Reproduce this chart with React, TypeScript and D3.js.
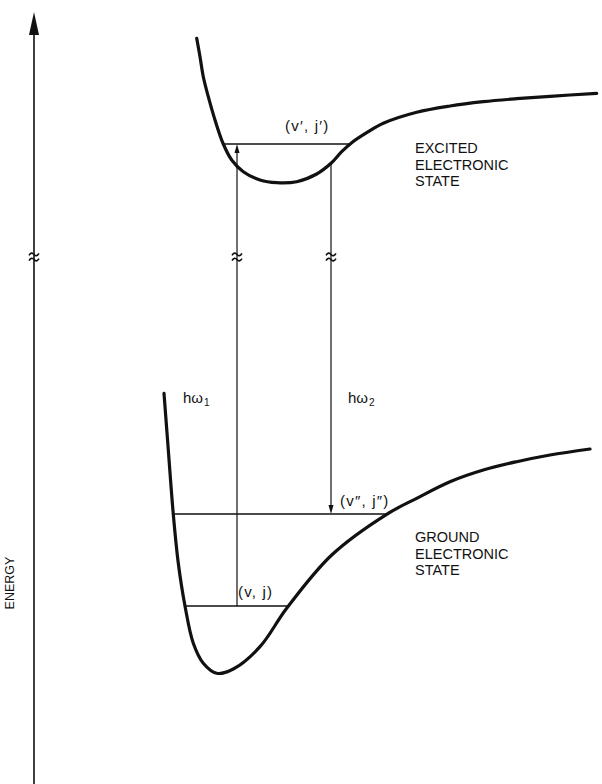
import { useEffect, useRef } from 'react';
import * as d3 from 'd3';

// internuclear distance r (arb. units) vs energy E (arb. units)
const excitedCurve: [number, number][] = [
  [3.67, 74.17], [4.0, 72.33], [4.33, 70.33], [4.83, 68.33], [5.5, 66.0],
  [6.33, 63.6], [7.17, 62.0], [8.33, 60.83], [10.0, 60.0], [11.67, 59.73],
  [13.67, 59.83], [15.67, 60.6], [17.1, 61.67], [18.17, 62.83], [19.17, 63.73],
  [20.67, 64.73], [22.33, 65.67], [25.67, 66.77], [29.0, 67.4], [32.33, 67.83],
  [35.67, 68.13], [39.0, 68.37], [43.67, 68.67],
];

const groundCurve: [number, number][] = [
  [0.4, 38.67], [0.83, 33.0], [1.33, 26.57], [1.83, 21.67], [2.5, 17.4],
  [3.33, 13.67], [4.33, 11.67], [5.67, 10.67], [7.33, 11.1], [10.0, 13.33],
  [12.67, 17.17], [17.17, 22.5], [22.67, 26.57], [25.67, 28.17], [29.0, 29.83],
  [32.33, 31.0], [35.67, 31.83], [39.0, 32.5], [43.0, 33.1],
];

// vibrational-rotational levels
const levels = [
  { name: '(v′, j′)', r0: 6.33, r1: 19.1, e: 63.6, lr: 12.5, le: 64.9 },
  { name: '(v″, j″)', r0: 1.33, r1: 22.7, e: 26.6, lr: 18.0, le: 27.4 },
  { name: '(v, j)', r0: 2.5, r1: 12.7, e: 17.4, lr: 7.8, le: 18.3 },
];

// transitions
const transitions = [
  { name: 'hω', sub: '1', r: 7.7, from: 17.4, to: 63.6, lr: 2.3, le: 37.7 },
  { name: 'hω', sub: '2', r: 17.1, from: 61.7, to: 26.6, lr: 18.8, le: 37.7 },
];

const breakEnergy = 52.3;
const stateLabels = [
  { lines: ['EXCITED', 'ELECTRONIC', 'STATE'], r: 25.5, e: 62.7 },
  { lines: ['GROUND', 'ELECTRONIC', 'STATE'], r: 25.5, e: 23.8 },
];

const App = () => {
  const ref = useRef<SVGSVGElement>(null);

  useEffect(() => {
    const svg = d3.select(ref.current);
    svg.selectAll('*').remove();

    const x = d3.scaleLinear().domain([0, 44]).range([160, 600]);
    const y = d3.scaleLinear().domain([0, 78]).range([780, 0]);
    const font = "'Liberation Sans', Arial, sans-serif";
    const ink = '#111';

    svg.append('rect').attr('width', 602).attr('height', 784).attr('fill', '#fff');

    // energy axis
    const axisX = 34;
    svg.append('line')
      .attr('x1', axisX).attr('x2', axisX)
      .attr('y1', 784).attr('y2', 30)
      .attr('stroke', ink).attr('stroke-width', 1.6);
    svg.append('path')
      .attr('d', `M${axisX},12 L${axisX - 5},35 L${axisX + 5},35 Z`)
      .attr('fill', ink);
    svg.append('text')
      .attr('transform', `translate(14,583) rotate(-90)`)
      .attr('text-anchor', 'middle')
      .attr('font-family', font)
      .attr('font-size', 12.5)
      .attr('fill', ink)
      .text('ENERGY');

    const line = d3.line<[number, number]>()
      .x(d => x(d[0]))
      .y(d => y(d[1]))
      .curve(d3.curveCatmullRom.alpha(0.5));

    [excitedCurve, groundCurve].forEach(c => {
      svg.append('path')
        .attr('d', line(c))
        .attr('fill', 'none')
        .attr('stroke', ink)
        .attr('stroke-width', 3.2)
        .attr('stroke-linecap', 'round')
        .attr('stroke-linejoin', 'round');
    });

    svg.selectAll('.level')
      .data(levels)
      .enter()
      .append('line')
      .attr('x1', d => x(d.r0))
      .attr('x2', d => x(d.r1))
      .attr('y1', d => y(d.e))
      .attr('y2', d => y(d.e))
      .attr('stroke', ink)
      .attr('stroke-width', 1.4);

    svg.selectAll('.lvl-label')
      .data(levels)
      .enter()
      .append('text')
      .attr('x', d => x(d.lr))
      .attr('y', d => y(d.le))
      .attr('font-family', font)
      .attr('font-size', 15)
      .attr('letter-spacing', 1.2)
      .attr('fill', ink)
      .text(d => d.name);

    // transitions
    transitions.forEach(t => {
      const up = t.to > t.from;
      const tipY = y(t.to);
      const dir = up ? 1 : -1;
      svg.append('line')
        .attr('x1', x(t.r)).attr('x2', x(t.r))
        .attr('y1', y(t.from)).attr('y2', tipY + dir * 6)
        .attr('stroke', ink).attr('stroke-width', 1.2);
      svg.append('path')
        .attr('d', `M${x(t.r)},${tipY} L${x(t.r) - 2.5},${tipY + dir * 9} L${x(t.r) + 2.5},${tipY + dir * 9} Z`)
        .attr('fill', ink);
      svg.append('text')
        .attr('x', x(t.lr)).attr('y', y(t.le))
        .attr('font-family', font).attr('font-size', 15).attr('fill', ink)
        .call(s => {
          s.append('tspan').text(t.name);
          s.append('tspan').attr('dy', 3).attr('dx', 1).attr('font-size', 10).text(t.sub);
        });
    });

    // break marks
    const by = y(breakEnergy);
    [axisX, x(transitions[0].r), x(transitions[1].r)].forEach(bx => {
      [-2.6, 2.6].forEach(off => {
        const yy = by + off;
        svg.append('path')
          .attr('d', `M${bx - 5},${yy + 1} Q${bx - 2.5},${yy - 3} ${bx},${yy} Q${bx + 2.5},${yy + 3} ${bx + 5},${yy - 1}`)
          .attr('fill', 'none')
          .attr('stroke', ink)
          .attr('stroke-width', 1.6);
      });
    });

    // state labels
    stateLabels.forEach(s => {
      const txt = svg.append('text')
        .attr('font-family', font)
        .attr('font-size', 14.5)
        .attr('fill', ink);
      s.lines.forEach((l, i) => {
        txt.append('tspan')
          .attr('x', x(s.r))
          .attr('y', y(s.e) + i * 16.5)
          .text(l);
      });
    });
  }, []);

  return (
    <svg ref={ref} width={602} height={784} style={{ position: 'absolute', left: 0, top: 0 }} />
  );
};

export default App;
